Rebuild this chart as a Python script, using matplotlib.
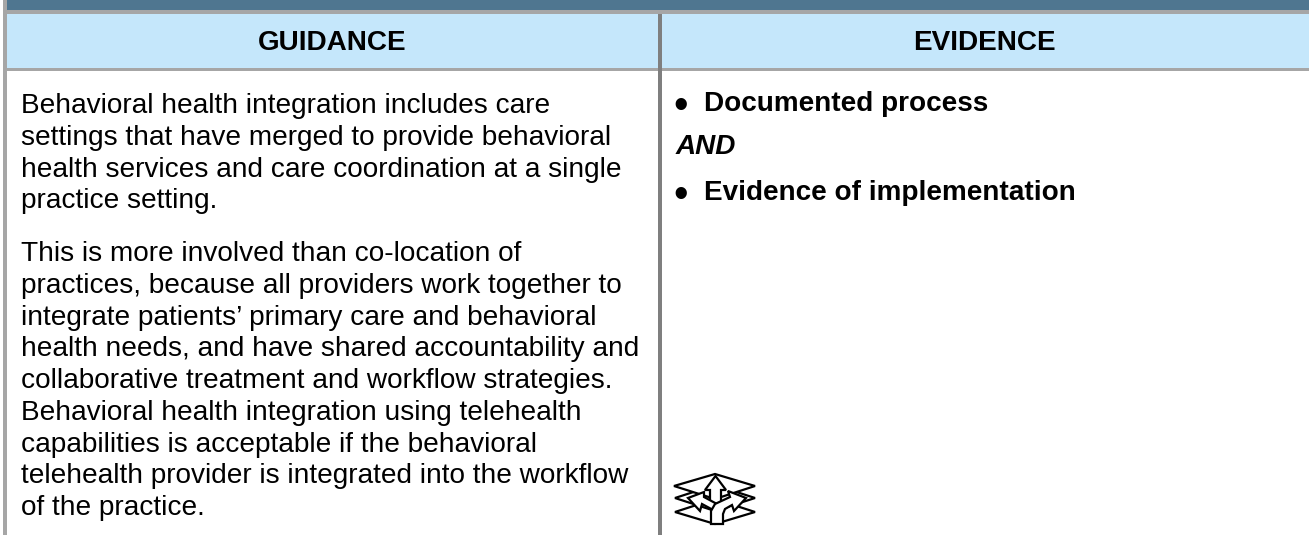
import matplotlib
matplotlib.use('Agg')
import matplotlib.pyplot as plt
from matplotlib.patches import Polygon, Rectangle

W, H = 1309, 535
FONT = 'Liberation Sans'
FS = 20.15
FS_BOLD = 20.1
LINE = 31.7

headers = ['GUIDANCE', 'EVIDENCE']
guidance_lines = [
    'Behavioral health integration includes care',
    'settings that have merged to provide behavioral',
    'health services and care coordination at a single',
    'practice setting.',
]
guidance_lines_2 = [
    'This is more involved than co-location of',
    'practices, because all providers work together to',
    'integrate patients\u2019 primary care and behavioral',
    'health needs, and have shared accountability and',
    'collaborative treatment and workflow strategies.',
    'Behavioral health integration using telehealth',
    'capabilities is acceptable if the behavioral',
    'telehealth provider is integrated into the workflow',
    'of the practice.',
]
evidence_items = ['Documented process', 'Evidence of implementation']

fig = plt.figure(figsize=(W / 100, H / 100), dpi=100)
ax = fig.add_axes([0, 0, 1, 1])
ax.set_xlim(0, W)
ax.set_ylim(H, 0)
ax.axis('off')


def box(x0, y0, x1, y1, color):
    ax.add_patch(Rectangle((x0, y0), x1 - x0, y1 - y0, fc=color, ec='none'))


# bands and rules
box(7, 0, W, 10, '#4f7690')
box(7, 10, W, 14, '#a6a6a6')
box(7, 14, W, 68, '#c5e7fb')
box(7, 68, W, 71, '#a6a6a6')
box(3, 0, 7, H, '#a6a6a6')
box(658, 14, 662, H, '#7f7f7f')

ax.text(332, 50, headers[0], family=FONT, fontsize=FS_BOLD, fontweight='bold',
        ha='center', va='baseline')
ax.text(984, 50, headers[1], family=FONT, fontsize=FS_BOLD, fontweight='bold',
        ha='center', va='baseline')

# left column
for i, line in enumerate(guidance_lines):
    ax.text(21, 113.3 + i * LINE, line, family=FONT, fontsize=FS, va='baseline')
for i, line in enumerate(guidance_lines_2):
    ax.text(21, 261.4 + i * LINE, line, family=FONT, fontsize=FS, va='baseline')

# right column
for item, y in zip(evidence_items, (110.7, 200)):
    ax.text(681, y - 8.6, '\u2022', family=FONT, fontsize=30, ha='center', va='center_baseline')
    ax.text(704, y, item, family=FONT, fontsize=FS_BOLD, fontweight='bold', va='baseline')
ax.text(676, 154, 'AND', family=FONT, fontsize=FS_BOLD, fontweight='bold',
        fontstyle='italic', va='baseline')

# layered arrows icon
icon_layers = [
    [(675, 512), (715, 499), (755, 512), (715, 524)],
    [(675, 498), (715, 485), (755, 498), (715, 511)],
    [(674, 486), (715, 474), (755, 486), (715, 499)],
]
for pts in icon_layers:
    ax.add_patch(Polygon(pts, closed=True, fc='white', ec='black', lw=1.6))
arrows = [
    [(710, 505), (710, 490), (705, 490), (715.5, 476), (726, 490), (721, 490), (721, 505)],
    [(715, 511), (702, 504), (700, 511), (688, 498), (704, 492), (704, 497), (717, 504)],
    [(711, 524), (711, 511), (715, 504), (730, 497), (728, 491), (746, 498), (734, 511),
     (732, 505), (725, 509), (723, 514), (723, 524)],
]
for pts in arrows:
    ax.add_patch(Polygon(pts, closed=True, fc='white', ec='black', lw=1.6))

fig.savefig('out.png', dpi=100)
